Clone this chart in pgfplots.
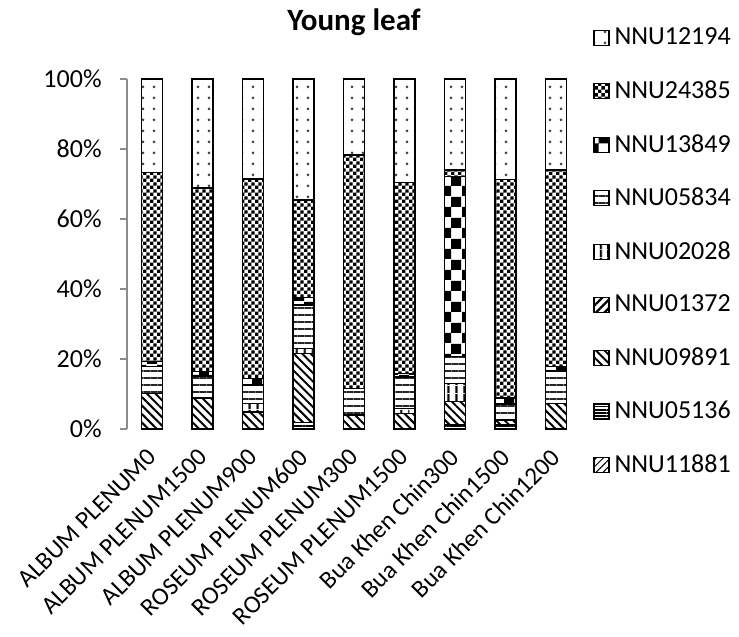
\documentclass[border=0pt]{standalone}
\usepackage{fontspec}
\setmainfont{Carlito}
\usepackage{pgfplots}
\pgfplotsset{compat=1.18}
\usepackage{pgfplotstable}
\usetikzlibrary{patterns,patterns.meta}

% checkerboard fills (fine and coarse)
\pgfdeclarepatternformonly{smallchecker}{\pgfpointorigin}{\pgfqpoint{3.4pt}{3.4pt}}{\pgfqpoint{3.4pt}{3.4pt}}{%
  \pgfpathrectangle{\pgfpointorigin}{\pgfqpoint{1.7pt}{1.7pt}}%
  \pgfpathrectangle{\pgfqpoint{1.7pt}{1.7pt}}{\pgfqpoint{1.7pt}{1.7pt}}%
  \pgfusepath{fill}}
\pgfdeclarepatternformonly{largechecker}{\pgfpointorigin}{\pgfqpoint{10.5pt}{10.5pt}}{\pgfqpoint{10.5pt}{10.5pt}}{%
  \pgfpathrectangle{\pgfpointorigin}{\pgfqpoint{5.25pt}{5.25pt}}%
  \pgfpathrectangle{\pgfqpoint{5.25pt}{5.25pt}}{\pgfqpoint{5.25pt}{5.25pt}}%
  \pgfusepath{fill}}

% share of each isolate (%) per sample
\pgfplotstableread{
idx s11881 s05136 s09891 s01372 s02028 s05834 s13849 s24385 s12194
0   0      0      10.2   0      0      7.6    1.4    54.1   26.7
1   0      0      8.8    0      0      6.3    1.3    52.4   31.2
2   0      0      4.9    0      2.4    5.3    1.9    56.9   28.6
3   0      1.8    19.8   0      1.4    12.4   2.1    27.9   34.6
4   0      0      4.0    0      0      7.6    0      66.7   21.7
5   0      0      4.5    0      1.4    9.0    1.0    54.5   29.6
6   0      1.1    6.7    0      5.2    7.7    51.4   1.9    26.0
7   0      1.2    1.4    0      0      4.5    1.7    62.5   28.7
8   0      0      7.3    0      0      9.3    1.2    56.2   26.0
}\shares

\begin{document}
\begin{tikzpicture}
\path[use as bounding box] (0,0) rectangle (369.5pt,318.5pt);
\begin{axis}[
  at={(63.5pt,104pt)}, anchor=south west,
  scale only axis, width=227pt, height=175pt,
  ybar stacked, bar width=10.5pt,
  legend image code/.code={\draw[#1,draw=black,line width=0.6pt] (0pt,-3.75pt) rectangle (7.5pt,3.75pt);},
  xmin=-0.5, xmax=8.5, ymin=0, ymax=100,
  axis lines*=left,
  x axis line style={draw=none},
  y axis line style={draw=gray!90, line width=0.75pt},
  xtick=data,
  xticklabels={ALBUM PLENUM0, ALBUM PLENUM1500, ALBUM PLENUM900, ROSEUM PLENUM600, ROSEUM PLENUM300, ROSEUM PLENUM1500, Bua Khen Chin300, Bua Khen Chin1500, Bua Khen Chin1200},
  xtick style={draw=none},
  xticklabel style={rotate=45, anchor=east, inner sep=0pt, font=\fontsize{12.5}{14}\selectfont},
  xticklabel shift=12pt,
  ytick={0,20,...,100},
  yticklabel={\pgfmathprintnumber{\tick}\%},
  /pgf/number format/assume math mode=true,
  ytick align=outside, major tick length=3.5pt,
  ytick style={draw=gray!90, line width=0.75pt},
  yticklabel style={anchor=east, inner sep=0pt, font=\fontsize{13}{15}\selectfont},
  yticklabel shift=9pt,
  title={Young leaf},
  every axis title shift=0pt,
  title style={at={(0.5,1)}, anchor=base, yshift=24pt, font=\fontsize{15.5}{18}\selectfont\bfseries},
  reverse legend,
  legend cell align=left,
  legend style={at={(rel axis cs:1.0264,1.158)}, anchor=north west, draw=none, fill=none,
    inner sep=0pt, row sep=12.4pt, font=\fontsize{13}{15}\selectfont,
    nodes={inner xsep=2.5pt}},
  every axis plot/.append style={draw=black, line width=0.7pt},
]
\addplot[pattern={Lines[angle=45,distance=2.5pt,line width=0.5pt]}] table[x=idx,y=s11881]{\shares};
\addplot[pattern={Lines[angle=0,distance=1.6pt,line width=0.8pt]}] table[x=idx,y=s05136]{\shares};
\addplot[pattern={Lines[angle=-45,distance=3pt,line width=1pt]}] table[x=idx,y=s09891]{\shares};
\addplot[pattern={Lines[angle=45,distance=3pt,line width=1.2pt]}] table[x=idx,y=s01372]{\shares};
\addplot[pattern={Lines[angle=90,distance=4pt,line width=1.2pt]}] table[x=idx,y=s02028]{\shares};
\addplot[pattern={Lines[angle=0,distance=3.5pt,line width=0.9pt]}, pattern color=black!85] table[x=idx,y=s05834]{\shares};
\addplot[pattern=largechecker] table[x=idx,y=s13849]{\shares};
\addplot[pattern=smallchecker] table[x=idx,y=s24385]{\shares};
\addplot[pattern={Dots[distance=5.5pt,radius=0.75pt]}, pattern color=black!75] table[x=idx,y=s12194]{\shares};
\legend{NNU11881,NNU05136,NNU09891,NNU01372,NNU02028,NNU05834,NNU13849,NNU24385,NNU12194}
\end{axis}
\end{tikzpicture}
\end{document}
